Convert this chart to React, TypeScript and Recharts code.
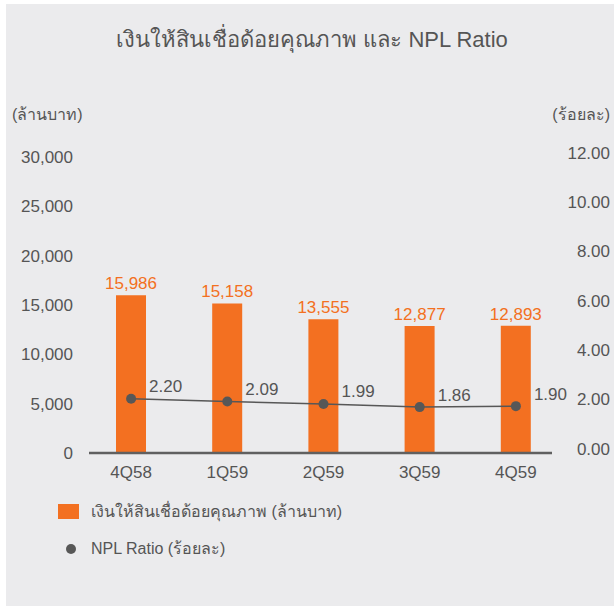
import React from 'react';
import { ComposedChart, Bar, Line, XAxis, YAxis, LabelList } from 'recharts';

const categories = ['4Q58', '1Q59', '2Q59', '3Q59', '4Q59'];
const nplAmount = [15986, 15158, 13555, 12877, 12893];
const nplRatio = [2.2, 2.09, 1.99, 1.86, 1.9];
const leftTicks = [0, 5000, 10000, 15000, 20000, 25000, 30000];
const rightTicks = [0, 2, 4, 6, 8, 10, 12];

const title = 'เงินให้สินเชื่อด้อยคุณภาพ และ NPL Ratio';
const leftUnit = '(ล้านบาท)';
const rightUnit = '(ร้อยละ)';
const barName = 'เงินให้สินเชื่อด้อยคุณภาพ (ล้านบาท)';
const lineName = 'NPL Ratio (ร้อยละ)';

const data = categories.map((c, i) => ({ name: c, amount: nplAmount[i], ratio: nplRatio[i] }));

const FONT = '"Liberation Sans", Arial, Helvetica, sans-serif';
const ORANGE = '#f37021';
const GRAY = '#575757';
const TEXT = '#555555';

const RightTick = (props: any) => {
  const { x, y, payload } = props;
  return (
    <text x={x + 46} y={y - 4} textAnchor="end" dominantBaseline="central" fill={TEXT} fontSize={17} fontFamily={FONT}>
      {Number(payload.value).toFixed(2)}
    </text>
  );
};

const RatioLabel = (props: any) => {
  const { x, y, value } = props;
  return (
    <text x={x + 18} y={y - 12} textAnchor="start" dominantBaseline="central" fill={TEXT} fontSize={17} fontFamily={FONT}>
      {Number(value).toFixed(2)}
    </text>
  );
};

export default function App() {
  return (
    <div style={{ position: 'absolute', left: 0, top: 0, width: 614, height: 606, background: '#ffffff', fontFamily: FONT }}>
      <div style={{ position: 'absolute', left: 6, top: 4, width: 608, height: 602, background: '#ebebed' }} />
      <div style={{ position: 'absolute', left: 0, top: 26, width: 624, textAlign: 'center', fontSize: 22, color: TEXT, lineHeight: '28px' }}>
        {title}
      </div>
      <div style={{ position: 'absolute', left: 12, top: 105, fontSize: 16, color: TEXT, lineHeight: '20px' }}>{leftUnit}</div>
      <div style={{ position: 'absolute', right: 4, top: 105, fontSize: 16, color: TEXT, lineHeight: '20px' }}>{rightUnit}</div>
      <div style={{ position: 'absolute', left: 0, top: 0 }}>
        <ComposedChart width={614} height={606} data={data} margin={{ top: 157, right: 0, bottom: 123, left: 0 }}>
          <XAxis
            dataKey="name"
            tickLine={false}
            tickSize={0}
            tickMargin={13}
            axisLine={{ stroke: '#606060', strokeWidth: 2.5, strokeDasharray: '0 6 463 40' }}
            tick={{ fill: TEXT, fontSize: 17, fontFamily: FONT }}
          />
          <YAxis
            yAxisId="left"
            orientation="left"
            width={83}
            domain={[0, 30000]}
            ticks={leftTicks}
            interval={0}
            axisLine={false}
            tickLine={false}
            tickSize={0}
            tickMargin={10}
            tickFormatter={(v: number) => v.toLocaleString('en-US')}
            tick={{ fill: TEXT, fontSize: 17, fontFamily: FONT }}
          />
          <YAxis
            yAxisId="right"
            orientation="right"
            width={50}
            domain={[0, 12]}
            ticks={rightTicks}
            interval={0}
            axisLine={false}
            tickLine={false}
            tickSize={0}
            tickMargin={0}
            tick={<RightTick />}
          />
          <Bar yAxisId="left" dataKey="amount" fill={ORANGE} barSize={30} isAnimationActive={false}>
            <LabelList
              dataKey="amount"
              position="top"
              offset={6}
              fill={ORANGE}
              fontSize={17}
              fontFamily={FONT}
              formatter={(v: any) => Number(v).toLocaleString('en-US')}
            />
          </Bar>
          <Line
            yAxisId="right"
            dataKey="ratio"
            stroke={GRAY}
            strokeWidth={1.5}
            dot={{ r: 5, fill: GRAY, stroke: GRAY, strokeWidth: 0 }}
            activeDot={false}
            isAnimationActive={false}
          >
            <LabelList dataKey="ratio" content={<RatioLabel />} />
          </Line>
        </ComposedChart>
      </div>
      <div style={{ position: 'absolute', left: 58, top: 504, width: 21, height: 15, background: ORANGE }} />
      <div style={{ position: 'absolute', left: 91, top: 502, fontSize: 16, color: TEXT, lineHeight: '20px' }}>{barName}</div>
      <div style={{ position: 'absolute', left: 66, top: 544, width: 10, height: 10, borderRadius: 5, background: GRAY }} />
      <div style={{ position: 'absolute', left: 91, top: 539, fontSize: 16, color: TEXT, lineHeight: '20px' }}>{lineName}</div>
    </div>
  );
}
